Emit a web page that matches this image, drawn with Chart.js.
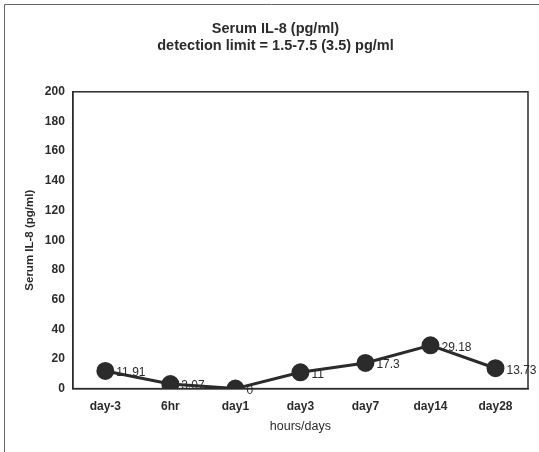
<!DOCTYPE html>
<html>
<head>
<meta charset="utf-8">
<script src="https://cdn.jsdelivr.net/npm/chart.js@4.4.1/dist/chart.umd.min.js"></script>
<style>
  html, body { margin: 0; padding: 0; background: #fff; }
  #wrap { width: 539px; height: 452px; position: relative; }
</style>
</head>
<body>
<div id="wrap"><canvas id="c"></canvas></div>
<script>
const timepoints = ["day-3", "6hr", "day1", "day3", "day7", "day14", "day28"];
const il8Values = [11.91, 3.07, 0, 11, 17.3, 29.18, 13.73];
const valueLabels = ["11.91", "3.07", "0", "11", "17.3", "29.18", "13.73"];
const titleLines = ["Serum IL-8 (pg/ml)", "detection limit = 1.5-7.5 (3.5) pg/ml"];

const ink = "#2b2b2b";
const fontFamily = "'Liberation Sans', 'DejaVu Sans', sans-serif";

// scan frame (left/top) + top/right edges of the plot box
const framePlugin = {
  id: "frame",
  afterDraw(chart) {
    const { ctx, chartArea: a } = chart;
    ctx.save();
    ctx.strokeStyle = "#666";
    ctx.lineWidth = 1;
    ctx.beginPath();
    ctx.moveTo(4.5, chart.height);
    ctx.lineTo(4.5, 4.5);
    ctx.lineTo(chart.width, 4.5);
    ctx.stroke();
    ctx.strokeStyle = ink;
    ctx.lineWidth = 1.5;
    ctx.strokeRect(a.left, a.top, a.right - a.left, a.bottom - a.top);
    ctx.restore();
  }
};

// value labels to the right of each point
const valueLabelPlugin = {
  id: "valueLabels",
  afterDatasetsDraw(chart) {
    const { ctx } = chart;
    const meta = chart.getDatasetMeta(0);
    ctx.save();
    ctx.fillStyle = ink;
    ctx.font = "12px " + fontFamily;
    ctx.textBaseline = "middle";
    meta.data.forEach((pt, i) => {
      ctx.fillText(valueLabels[i], pt.x + 11, pt.y + 2);
    });
    ctx.restore();
  }
};

new Chart(document.getElementById("c"), {
  type: "line",
  data: {
    labels: timepoints,
    datasets: [{
      data: il8Values,
      borderColor: ink,
      backgroundColor: ink,
      borderWidth: 3,
      pointRadius: 7.5,
      pointBackgroundColor: ink,
      pointBorderColor: ink,
      tension: 0
    }]
  },
  options: {
    responsive: true,
    maintainAspectRatio: false,
    animation: false,
    layout: { padding: { left: 23, right: 11, bottom: 0 } },
    plugins: {
      legend: { display: false },
      tooltip: { enabled: false },
      title: {
        display: true,
        text: titleLines,
        color: ink,
        font: { family: fontFamily, size: 14.5, weight: "bold", lineHeight: 1.2 },
        padding: { top: 20, bottom: 37 }
      }
    },
    scales: {
      x: {
        offset: true,
        grid: { display: false, drawTicks: false },
        border: { display: true, color: ink, width: 1.5 },
        ticks: { color: ink, padding: 11, font: { family: fontFamily, size: 12, weight: "bold" } },
        title: { display: true, text: "hours/days", color: ink, padding: { top: -6, bottom: 18 }, font: { family: fontFamily, size: 12.5 } }
      },
      y: {
        min: 0,
        max: 200,
        ticks: { stepSize: 20, color: ink, padding: 8, font: { family: fontFamily, size: 12, weight: "bold" } },
        grid: { display: false, drawTicks: false },
        border: { display: true, color: ink, width: 1.5 },
        title: { display: true, text: "Serum IL-8 (pg/ml)", color: ink, padding: { top: 0, bottom: 0 }, font: { family: fontFamily, size: 11.5, weight: "bold" } }
      }
    }
  },
  plugins: [framePlugin, valueLabelPlugin]
});
</script>
</body>
</html>
